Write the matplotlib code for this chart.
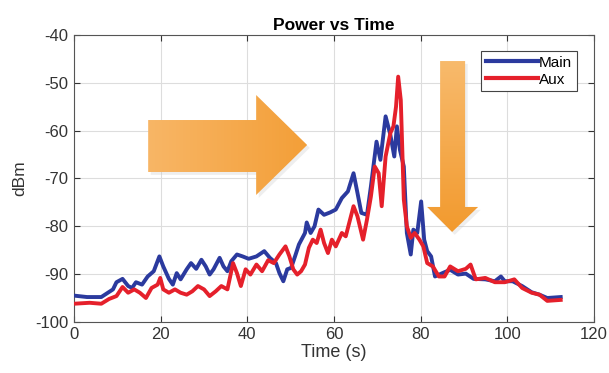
import numpy as np
import matplotlib
matplotlib.use("Agg")
import matplotlib.pyplot as plt
from matplotlib.patches import Polygon

plt.rcParams['font.family'] = ['Liberation Sans', 'DejaVu Sans']
plt.rcParams['axes.unicode_minus'] = False

# ---- data ----
main_t = [0, 3, 6.3, 9, 9.8, 11.2, 12.5, 13.4, 14.3, 15.7, 17, 18.4, 19.7, 20.6, 21.9, 22.8,
          23.7, 24.6, 26, 27, 28.2, 29.4, 30.4, 31.3, 32.2, 33.6, 34.5, 35.4, 36.3, 37.6,
          38.9, 40.3, 42.1, 43.9, 45.2, 46.6, 47.4, 48.3, 49.2, 50.1, 51, 51.9, 53.3, 53.7,
          54.6, 55.5, 56.4, 57.7, 59.1, 60.4, 61.8, 63.2, 64.5, 65.4, 66.3, 67.6, 68.5,
          69.8, 70.7, 71.9, 73, 73.9, 74.5, 75.2, 76.1, 76.8, 77.7, 78.3, 79.2, 80.1, 80.8,
          81.5, 82.4, 83.3, 85, 86.8, 88.6, 90.4, 92.2, 94.9, 97.1, 98.5, 99.4, 101.2,
          103.4, 105.6, 107.4, 109.2, 112.3]
main_p = [-94.5, -94.8, -94.8, -93.2, -91.7, -91.0, -92.5, -92.9, -91.7, -92.2, -90.5, -89.4,
          -86.3, -88.4, -91.0, -92.2, -89.8, -91.1, -89.0, -87.7, -88.9, -87.0, -88.4, -90.1,
          -89.0, -86.6, -88.4, -89.4, -87.3, -85.9, -86.3, -86.8, -86.3, -85.2, -86.6, -87.7,
          -89.8, -91.5, -89.0, -88.7, -86.3, -83.8, -81.4, -79.2, -81.4, -80.0, -76.5, -77.6,
          -77.1, -76.5, -74.1, -72.7, -68.9, -73.0, -77.2, -77.6, -71.7, -62.3, -66.1, -57.0,
          -60.9, -65.4, -59.1, -64.0, -67.5, -81.4, -85.9, -80.7, -81.4, -74.8, -82.8, -85.2,
          -86.3, -90.5, -89.8, -89.1, -90.1, -89.9, -91.0, -91.1, -91.5, -90.5, -91.5, -91.5,
          -92.5, -93.8, -94.3, -95.0, -94.8]

aux_t = [0, 3.6, 6.3, 8.1, 9.8, 11.2, 12.5, 13.9, 15.2, 16.6, 17.9, 19.3, 19.9, 20.6, 21.9,
         23.3, 24.6, 26, 27.3, 28.6, 30, 31.3, 32.7, 34, 35.4, 36.7, 37.6, 38.5, 39.6, 40.7,
         42.1, 43.4, 44.8, 46.1, 47.4, 48.8, 49.7, 50.6, 51.5, 52.4, 53.3, 54.2, 55.1, 56,
         56.9, 57.7, 58.6, 59.5, 60.4, 61.8, 62.7, 64.5, 65.4, 66.7, 67.6, 68.5, 69.4, 70.3,
         71, 71.9, 73, 73.7, 74.3, 74.8, 75.4, 76.1, 76.8, 77.7, 78.6, 79.7, 80.6, 81.5,
         82.8, 84.2, 85.5, 86.8, 88.6, 90.4, 91.5, 92.7, 94.9, 97.1, 99.4, 101.6, 103.4,
         105.6, 107.4, 109.2, 112.3]
aux_p = [-96.2, -96.0, -96.2, -95.2, -94.6, -92.7, -93.9, -93.2, -93.9, -95.0, -92.9, -92.2,
         -90.8, -93.2, -93.9, -93.2, -93.9, -94.3, -93.6, -92.5, -93.2, -94.6, -93.6, -92.5,
         -93.2, -87.7, -89.8, -92.5, -89.0, -90.1, -88.0, -89.4, -87.1, -87.7, -85.9, -84.2,
         -86.3, -89.0, -90.1, -89.4, -88.0, -84.5, -82.8, -83.5, -80.7, -83.5, -85.6, -82.8,
         -84.2, -81.4, -82.1, -75.8, -77.9, -82.8, -78.6, -73.8, -67.5, -68.9, -75.8, -65.4,
         -60.5, -59.1, -55.0, -48.7, -53.6, -74.4, -80.0, -82.4, -81.4, -82.8, -84.2, -87.7,
         -88.4, -90.5, -90.5, -88.4, -89.4, -88.9, -88.0, -91.1, -90.8, -91.7, -91.7, -91.1,
         -92.9, -93.9, -94.3, -95.6, -95.4]

x_ticks = [0, 20, 40, 60, 80, 100, 120]
y_ticks = [-100, -90, -80, -70, -60, -50, -40]

fig = plt.figure(figsize=(6.09, 3.73), dpi=100)
ax = fig.add_axes([0.1215, 0.137, 0.854, 0.769])

ax.plot(main_t, main_p, color='#2B3A9E', lw=2.8, label='Main', zorder=3,
        solid_joinstyle='round')
ax.plot(aux_t, aux_p, color='#E5202B', lw=2.8, label='Aux', zorder=4,
        solid_joinstyle='round')

ax.set_xlim(0, 120)
ax.set_ylim(-100, -40)
ax.set_xticks(x_ticks)
ax.set_yticks(y_ticks)
ax.grid(True, color='#DDDDDD', lw=0.8)
ax.set_axisbelow(True)
ax.tick_params(direction='in', top=True, right=True, labelsize=12, colors='#333333',
               length=4, pad=4)
for s in ax.spines.values():
    s.set_color('#555555')
    s.set_linewidth(0.8)
ax.set_xlabel('Time (s)', fontsize=13, color='#333333', labelpad=1)
ax.set_ylabel('dBm', fontsize=12.5, color='#333333', labelpad=6)
ax.set_title('Power vs Time', fontsize=12.5, fontweight='bold', pad=4)

leg = ax.legend(loc='upper right', bbox_to_anchor=(0.967, 0.944), fontsize=11,
                handlelength=3.4, handletextpad=0.1, borderpad=0.3, labelspacing=0.2,
                fancybox=False, framealpha=1, edgecolor='#444444', borderaxespad=0.0)
leg.get_frame().set_linewidth(0.8)
for l in leg.get_lines():
    l.set_linewidth(3)

# ---- decorative orange arrows (axes-fraction coordinates) ----
def gradient_arrow(verts, c0, c1, direction):
    poly = Polygon(verts, closed=True, transform=ax.transAxes, facecolor='none',
                   edgecolor='none', zorder=5)
    ax.add_patch(poly)
    n = 200
    g = np.linspace(0, 1, n)
    if direction == 'h':
        grad = np.tile(g, (n, 1))
    else:
        grad = np.tile(g[:, None], (1, n))
    c0 = np.array(matplotlib.colors.to_rgb(c0))
    c1 = np.array(matplotlib.colors.to_rgb(c1))
    img = c0[None, None, :] * (1 - grad[..., None]) + c1[None, None, :] * grad[..., None]
    xs = [v[0] for v in verts]; ys = [v[1] for v in verts]
    im = ax.imshow(img, extent=[min(xs), max(xs), min(ys), max(ys)], origin='upper',
                   transform=ax.transAxes, aspect='auto', zorder=5, interpolation='bilinear')
    im.set_clip_path(poly)
    sh = Polygon([(x + 0.005, y - 0.01) for x, y in verts], closed=True,
                 transform=ax.transAxes, facecolor='#C8C8C8', alpha=0.3,
                 edgecolor='none', zorder=4.9)
    ax.add_patch(sh)

def fx(px):
    return (px - 73.8) / (594 - 73.8)

def fy(py):
    return (322 - py) / (322 - 35)

right_arrow = [(fx(148), fy(120)), (fx(256), fy(120)), (fx(256), fy(95)), (fx(307), fy(145)),
               (fx(256), fy(195)), (fx(256), fy(172)), (fx(148), fy(172))]
gradient_arrow(right_arrow, '#F8B666', '#F39F38', 'h')

down_arrow = [(fx(440), fy(61)), (fx(465), fy(61)), (fx(465), fy(207)), (fx(478), fy(207)),
              (fx(452), fy(232)), (fx(427), fy(207)), (fx(440), fy(207))]
gradient_arrow(down_arrow, '#F8BA6C', '#F29A2E', 'v')

ax.set_xlim(0, 120)
ax.set_ylim(-100, -40)

fig.savefig('out.png', dpi=100)
